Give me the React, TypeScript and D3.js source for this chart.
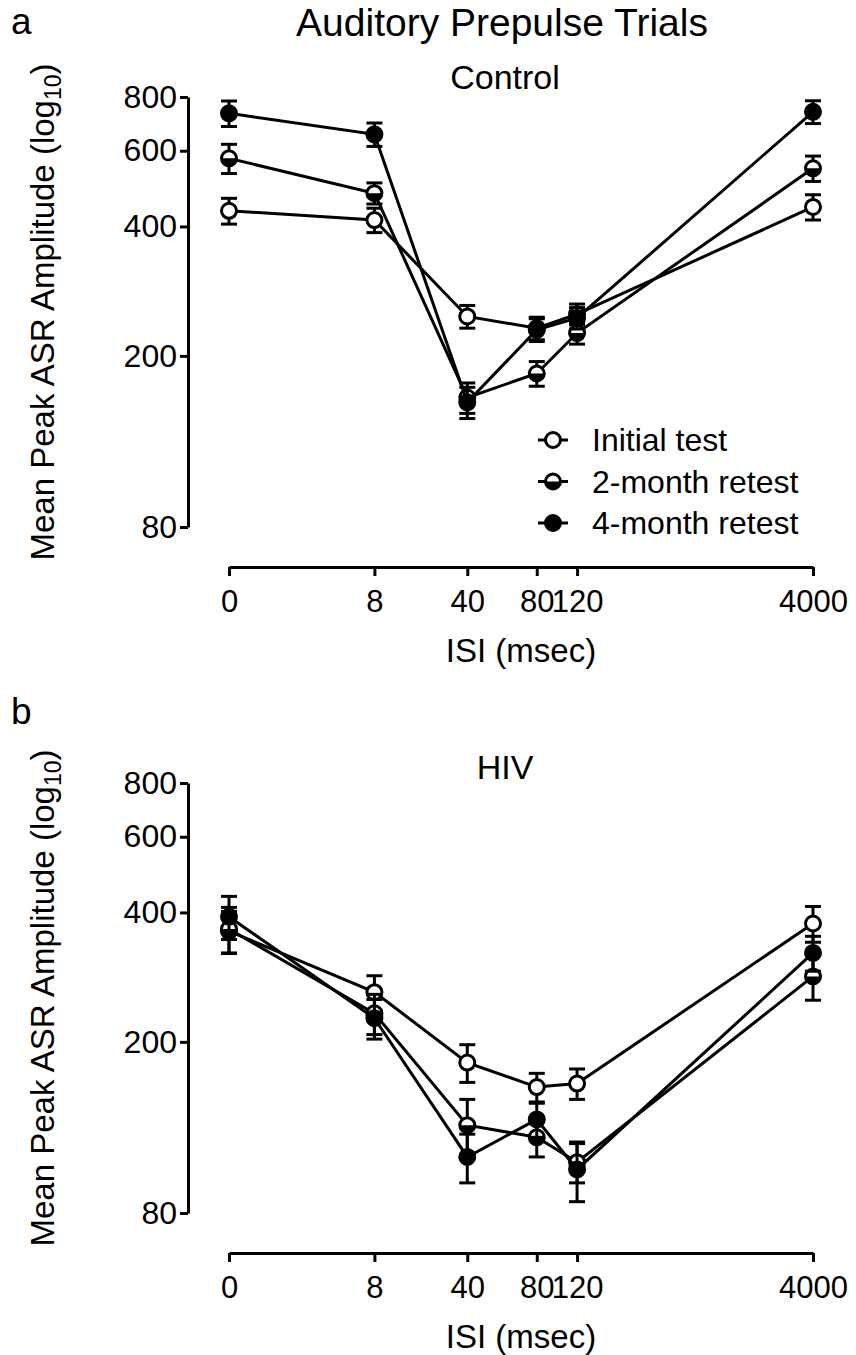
import React, { useRef, useEffect } from "react";
import * as d3 from "d3";

// ISI conditions (msec) and their tick labels
const isi = [0, 8, 40, 80, 120, 4000];
const isiLabels = ["0", "8", "40", "80", "120", "4000"];
// where each ISI sits along the x axis (fraction of axis length)
const isiSlots = [0, 0.249, 0.408, 0.527, 0.596, 1];

const yTicks = [80, 200, 400, 600, 800];

const seriesNames = ["Initial test", "2-month retest", "4-month retest"];
const seriesStyle = ["open", "half", "filled"];

// Control group: means and SEM
const controlInitial = [435, 414, 247, 232, 250, 444];
const controlInitialSem = [30, 27, 15, 14, 14, 30];
const control2Month = [576, 478, 160, 182, 226, 546];
const control2MonthSem = [45, 27, 13, 12, 13, 37];
const control4Month = [733, 655, 156, 230, 245, 739];
const control4MonthSem = [50, 41, 13, 14, 14, 45];

// HIV group: means and SEM
const hivInitial = [362, 261, 179, 157, 160, 377];
const hivInitialSem = [40, 24, 18, 12, 13, 36];
const hiv2Month = [366, 233, 128, 120, 105, 284];
const hiv2MonthSem = [45, 25, 19, 12, 11, 34];
const hiv4Month = [391, 227, 108, 132, 101, 322];
const hiv4MonthSem = [45, 24, 14, 12, 16, 30];

const FONT = "'Liberation Sans', Arial, Helvetica, sans-serif";

const drawMarker = (g, cx, cy, style, r = 7.5) => {
  g.append("circle")
    .attr("cx", cx)
    .attr("cy", cy)
    .attr("r", r)
    .attr("fill", style === "filled" ? "#000" : "#fff");
  if (style === "half") {
    g.append("path")
      .attr("d", `M${cx - r},${cy} A${r},${r} 0 0 0 ${cx + r},${cy} Z`)
      .attr("fill", "#000");
  }
  g.append("circle")
    .attr("cx", cx)
    .attr("cy", cy)
    .attr("r", r)
    .attr("fill", "none")
    .attr("stroke", "#000")
    .attr("stroke-width", 3);
};

const App = () => {
  const svgRef = useRef<SVGSVGElement>(null);

  useEffect(() => {
    const svg = d3.select(svgRef.current);
    svg.selectAll("*").remove();
    svg.attr("font-family", FONT);

    const axisX = 188;
    const xStart = 229;
    const xEnd = 813;

    const x = d3
      .scaleLinear()
      .domain(isi)
      .range(isiSlots.map((f) => xStart + f * (xEnd - xStart)));

    svg
      .append("text")
      .attr("x", 502)
      .attr("y", 36)
      .attr("text-anchor", "middle")
      .attr("font-size", 39)
      .text("Auditory Prepulse Trials");

    const panels = [
      {
        letter: "a",
        letterY: 34,
        title: "Control",
        titleY: 89,
        top: 97,
        bottom: 527,
        means: [controlInitial, control2Month, control4Month],
        sems: [controlInitialSem, control2MonthSem, control4MonthSem],
        legend: true,
      },
      {
        letter: "b",
        letterY: 724,
        title: "HIV",
        titleY: 779,
        top: 783,
        bottom: 1213,
        means: [hivInitial, hiv2Month, hiv4Month],
        sems: [hivInitialSem, hiv2MonthSem, hiv4MonthSem],
        legend: false,
      },
    ];

    panels.forEach((p) => {
      const g = svg.append("g");
      const y = d3.scaleLog().domain([80, 800]).range([p.bottom, p.top]);
      const xAxisY = p.bottom + 40;

      g.append("text")
        .attr("x", 11)
        .attr("y", p.letterY)
        .attr("font-size", 37)
        .text(p.letter);

      g.append("text")
        .attr("x", 505)
        .attr("y", p.titleY)
        .attr("text-anchor", "middle")
        .attr("font-size", 34)
        .text(p.title);

      // y axis
      const ya = g
        .append("g")
        .attr("transform", `translate(${axisX},0)`)
        .call(
          d3
            .axisLeft(y)
            .tickValues(yTicks)
            .tickFormat(d3.format("d"))
            .tickSize(8)
            .tickSizeOuter(0)
            .tickPadding(3)
        );
      ya.attr("font-size", 32).attr("font-family", FONT);
      ya.selectAll("path, line").attr("stroke-width", 3);
      ya.selectAll("text").attr("fill", "#000");

      // y title
      const yt = g
        .append("text")
        .attr(
          "transform",
          `translate(54,${(p.top + p.bottom) / 2}) rotate(-90)`
        )
        .attr("text-anchor", "middle")
        .attr("font-size", 33);
      yt.append("tspan").text("Mean Peak ASR Amplitude (log");
      yt.append("tspan").attr("font-size", 23).attr("dy", 7).text("10");
      yt.append("tspan").attr("dy", -7).text(")");

      // x axis
      const xa = g
        .append("g")
        .attr("transform", `translate(0,${xAxisY})`)
        .call(
          d3
            .axisBottom(x)
            .tickValues(isi)
            .tickFormat((d, i) => isiLabels[i])
            .tickSize(9)
            .tickSizeOuter(0)
            .tickPadding(14)
        );
      xa.attr("font-size", 31).attr("font-family", FONT);
      xa.selectAll("path, line").attr("stroke-width", 3);
      xa.selectAll("text").attr("fill", "#000");

      g.append("text")
        .attr("x", 521)
        .attr("y", xAxisY + 95)
        .attr("text-anchor", "middle")
        .attr("font-size", 33)
        .text("ISI (msec)");

      const line = d3
        .line<number>()
        .x((d, i) => x(isi[i]))
        .y((d) => y(d));

      p.means.forEach((vals, s) => {
        const sg = g.append("g");
        sg.append("path")
          .datum(vals)
          .attr("fill", "none")
          .attr("stroke", "#000")
          .attr("stroke-width", 3)
          .attr("d", line);

        vals.forEach((v, i) => {
          const cx = x(isi[i]);
          const hi = y(v + p.sems[s][i]);
          const lo = y(v - p.sems[s][i]);
          sg.append("line")
            .attr("x1", cx)
            .attr("x2", cx)
            .attr("y1", hi)
            .attr("y2", lo)
            .attr("stroke", "#000")
            .attr("stroke-width", 3);
          [hi, lo].forEach((yy) =>
            sg
              .append("line")
              .attr("x1", cx - 8)
              .attr("x2", cx + 8)
              .attr("y1", yy)
              .attr("y2", yy)
              .attr("stroke", "#000")
              .attr("stroke-width", 3)
          );
        });

        vals.forEach((v, i) => drawMarker(sg, x(isi[i]), y(v), seriesStyle[s]));
      });

      if (p.legend) {
        const lg = g.append("g");
        seriesNames.forEach((name, s) => {
          const cy = 440 + s * 41.5;
          lg.append("line")
            .attr("x1", 538)
            .attr("x2", 568)
            .attr("y1", cy)
            .attr("y2", cy)
            .attr("stroke", "#000")
            .attr("stroke-width", 3);
          drawMarker(lg, 553, cy, seriesStyle[s]);
          lg.append("text")
            .attr("x", 592)
            .attr("y", cy + 11)
            .attr("font-size", 32)
            .text(name);
        });
      }
    });
  }, []);

  return (
    <>
      <style>{"body{margin:0}"}</style>
      <svg ref={svgRef} width={856} height={1355} style={{ display: "block" }} />
    </>
  );
};

export default App;
